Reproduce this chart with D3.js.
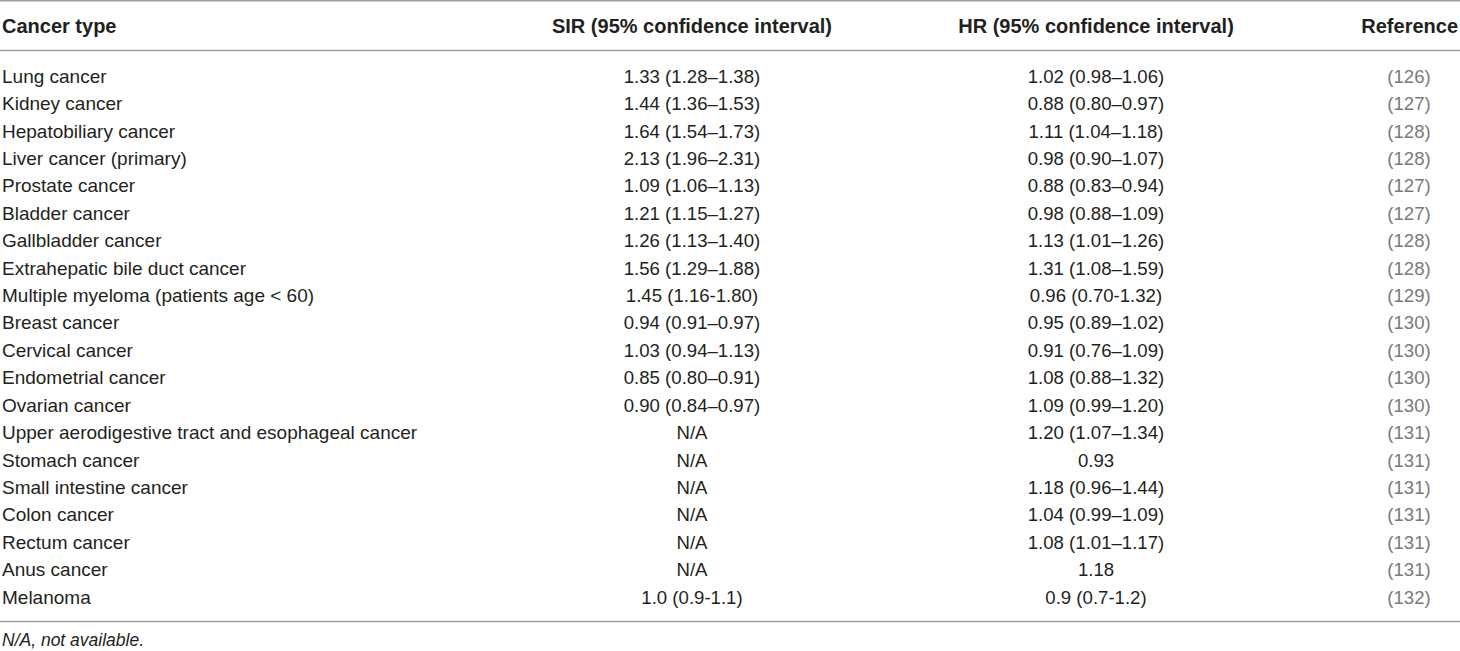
<!DOCTYPE html>
<html>
<head>
<meta charset="utf-8">
<script src="https://cdn.jsdelivr.net/npm/d3@7"></script>
<style>
  html, body { margin: 0; padding: 0; background: #fff; }
  svg { display: block; font-family: "Liberation Sans", Arial, sans-serif; }
</style>
</head>
<body>
<svg id="chart" width="1460" height="651"></svg>
<script>
// table data
const headers = ['Cancer type', 'SIR (95% confidence interval)', 'HR (95% confidence interval)', 'Reference']

const cancerTypes = [
  'Lung cancer', 'Kidney cancer', 'Hepatobiliary cancer', 'Liver cancer (primary)',
  'Prostate cancer', 'Bladder cancer', 'Gallbladder cancer', 'Extrahepatic bile duct cancer',
  'Multiple myeloma (patients age < 60)', 'Breast cancer', 'Cervical cancer',
  'Endometrial cancer', 'Ovarian cancer', 'Upper aerodigestive tract and esophageal cancer',
  'Stomach cancer', 'Small intestine cancer', 'Colon cancer', 'Rectum cancer',
  'Anus cancer', 'Melanoma'
]

const sirValues = [
  '1.33 (1.28–1.38)', '1.44 (1.36–1.53)', '1.64 (1.54–1.73)', '2.13 (1.96–2.31)',
  '1.09 (1.06–1.13)', '1.21 (1.15–1.27)', '1.26 (1.13–1.40)', '1.56 (1.29–1.88)',
  '1.45 (1.16-1.80)', '0.94 (0.91–0.97)', '1.03 (0.94–1.13)', '0.85 (0.80–0.91)',
  '0.90 (0.84–0.97)', 'N/A', 'N/A', 'N/A', 'N/A', 'N/A', 'N/A', '1.0 (0.9-1.1)'
]

const hrValues = [
  '1.02 (0.98–1.06)', '0.88 (0.80–0.97)', '1.11 (1.04–1.18)', '0.98 (0.90–1.07)',
  '0.88 (0.83–0.94)', '0.98 (0.88–1.09)', '1.13 (1.01–1.26)', '1.31 (1.08–1.59)',
  '0.96 (0.70-1.32)', '0.95 (0.89–1.02)', '0.91 (0.76–1.09)', '1.08 (0.88–1.32)',
  '1.09 (0.99–1.20)', '1.20 (1.07–1.34)', '0.93', '1.18 (0.96–1.44)',
  '1.04 (0.99–1.09)', '1.08 (1.01–1.17)', '1.18', '0.9 (0.7-1.2)'
]

const references = [
  '(126)', '(127)', '(128)', '(128)', '(127)', '(127)', '(128)', '(128)', '(129)', '(130)',
  '(130)', '(130)', '(130)', '(131)', '(131)', '(131)', '(131)', '(131)', '(131)', '(132)'
]

const footnote = 'N/A, not available.'

//======== layout ========//
const width = 1460
const svg = d3.select('#chart')

const rowScale = d3.scaleBand()
  .domain(d3.range(cancerTypes.length))
  .range([62.5, 62.5 + 27.42 * cancerTypes.length])

// column anchors
const colX = d3.scaleOrdinal()
  .domain(['type', 'sir', 'hr', 'ref'])
  .range([2, 692, 1096, 1409])

const headSize = 20
const fontSize = 18.6
const textColor = '#231f20'
const lineColor = '#a0a0a0'

// rules
const rules = [0.8, 50.5, 621.5]
svg.selectAll('line.rule')
  .data(rules)
  .join('line')
  .attr('class', 'rule')
  .attr('x1', 0)
  .attr('x2', width)
  .attr('y1', d => d)
  .attr('y2', d => d)
  .attr('stroke', lineColor)
  .attr('stroke-width', 1.6)

// header
const headerY = 33
const headerCols = [
  { key: 'type', anchor: 'start', x: colX('type') },
  { key: 'sir', anchor: 'middle', x: colX('sir') },
  { key: 'hr', anchor: 'middle', x: colX('hr') },
  { key: 'ref', anchor: 'end', x: 1458 }
]
svg.selectAll('text.header')
  .data(headerCols)
  .join('text')
  .attr('class', 'header')
  .attr('x', d => d.x)
  .attr('y', headerY)
  .attr('text-anchor', d => d.anchor)
  .attr('font-size', headSize)
  .attr('font-weight', 'bold')
  .attr('fill', textColor)
  .text((d, i) => headers[i])

// body
const rows = svg.selectAll('g.row')
  .data(cancerTypes)
  .join('g')
  .attr('class', 'row')
  .attr('transform', (d, i) => `translate(0, ${rowScale(i) + rowScale.bandwidth() / 2 + 6.5})`)

rows.append('text')
  .attr('x', colX('type'))
  .attr('font-size', 19)
  .attr('fill', textColor)
  .text(d => d)

rows.append('text')
  .attr('x', colX('sir'))
  .attr('text-anchor', 'middle')
  .attr('font-size', fontSize)
  .attr('fill', textColor)
  .text((d, i) => sirValues[i])

rows.append('text')
  .attr('x', colX('hr'))
  .attr('text-anchor', 'middle')
  .attr('font-size', fontSize)
  .attr('fill', textColor)
  .text((d, i) => hrValues[i])

rows.append('text')
  .attr('x', colX('ref'))
  .attr('text-anchor', 'middle')
  .attr('font-size', fontSize)
  .attr('fill', '#7a7a7a')
  .text((d, i) => references[i])

// footnote
svg.append('text')
  .attr('x', 2)
  .attr('y', 646)
  .attr('font-size', 17.5)
  .attr('font-style', 'italic')
  .attr('fill', textColor)
  .text(footnote)
</script>
</body>
</html>
